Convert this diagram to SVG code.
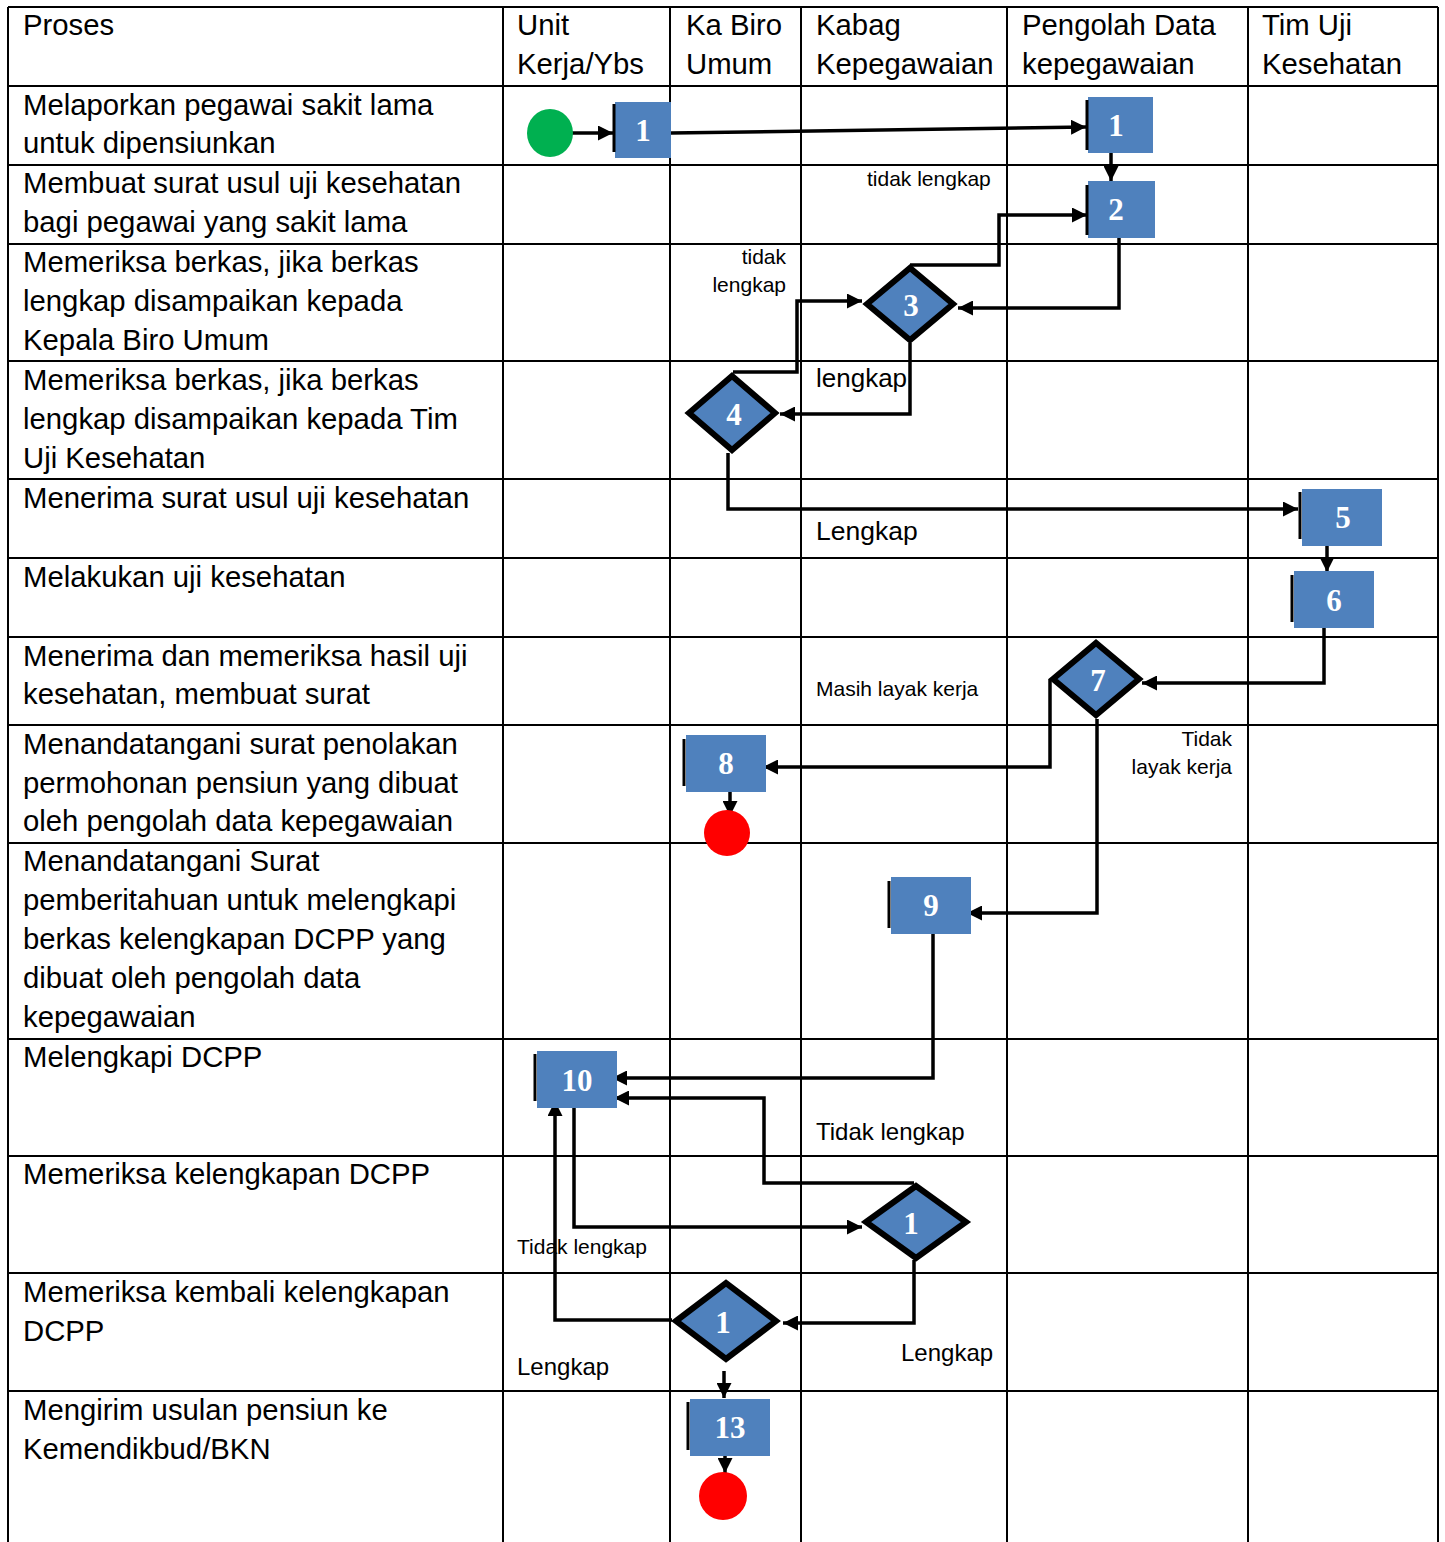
<svg xmlns="http://www.w3.org/2000/svg" width="1445" height="1542" viewBox="0 0 1445 1542">
<defs>
<style>
.g{stroke:#000;stroke-width:2;fill:none}
.t{font-family:"Liberation Sans",Arial,sans-serif;font-size:29.3px;fill:#000}
.s{font-family:"Liberation Sans",Arial,sans-serif;font-size:21px;fill:#000}
.m{font-family:"Liberation Sans",Arial,sans-serif;font-size:24px;fill:#000}
.n{fill:#4F81BD}
.bar{stroke:#000;stroke-width:3}
.d{fill:#4F81BD;stroke:#000;stroke-width:6;stroke-linejoin:miter}
.num{font-family:"Liberation Serif","Times New Roman",serif;font-weight:bold;font-size:31px;fill:#fff;text-anchor:middle}
.c{stroke:#000;stroke-width:3.5;fill:none;marker-end:url(#ah)}
</style>
<marker id="ah" markerUnits="userSpaceOnUse" markerWidth="15" markerHeight="15" refX="15" refY="7.5" orient="auto">
<path d="M0,0 L15,7.5 L0,15 z" fill="#000"/>
</marker>
</defs>
<rect width="1445" height="1542" fill="#fff"/>
<g id="grid">
<line class="g" x1="8" y1="7" x2="1438" y2="7"/>
<line class="g" x1="8" y1="86" x2="1438" y2="86"/>
<line class="g" x1="8" y1="165" x2="1438" y2="165"/>
<line class="g" x1="8" y1="244" x2="1438" y2="244"/>
<line class="g" x1="8" y1="361" x2="1438" y2="361"/>
<line class="g" x1="8" y1="479" x2="1438" y2="479"/>
<line class="g" x1="8" y1="558" x2="1438" y2="558"/>
<line class="g" x1="8" y1="637" x2="1438" y2="637"/>
<line class="g" x1="8" y1="725" x2="1438" y2="725"/>
<line class="g" x1="8" y1="843" x2="1438" y2="843"/>
<line class="g" x1="8" y1="1039" x2="1438" y2="1039"/>
<line class="g" x1="8" y1="1156" x2="1438" y2="1156"/>
<line class="g" x1="8" y1="1273" x2="1438" y2="1273"/>
<line class="g" x1="8" y1="1391" x2="1438" y2="1391"/>
<line class="g" x1="8" y1="7" x2="8" y2="1542"/>
<line class="g" x1="503" y1="7" x2="503" y2="1542"/>
<line class="g" x1="670" y1="7" x2="670" y2="1542"/>
<line class="g" x1="801" y1="7" x2="801" y2="1542"/>
<line class="g" x1="1007" y1="7" x2="1007" y2="1542"/>
<line class="g" x1="1248" y1="7" x2="1248" y2="1542"/>
<line class="g" x1="1438" y1="7" x2="1438" y2="1542"/>
</g>
<g id="header" class="t">
<text x="23" y="35">Proses</text>
<text x="517" y="35">Unit</text><text x="517" y="74">Kerja/Ybs</text>
<text x="686" y="35">Ka Biro</text><text x="686" y="74">Umum</text>
<text x="816" y="35">Kabag</text><text x="816" y="74">Kepegawaian</text>
<text x="1022" y="35">Pengolah Data</text><text x="1022" y="74">kepegawaian</text>
<text x="1262" y="35">Tim Uji</text><text x="1262" y="74">Kesehatan</text>
</g>
<g id="proses" class="t">
<text x="23" y="115">Melaporkan pegawai sakit lama</text>
<text x="23" y="153">untuk dipensiunkan</text>
<text x="23" y="193">Membuat surat usul uji kesehatan</text>
<text x="23" y="232">bagi pegawai yang sakit lama</text>
<text x="23" y="272">Memeriksa berkas, jika berkas</text>
<text x="23" y="311">lengkap disampaikan kepada</text>
<text x="23" y="350">Kepala Biro Umum</text>
<text x="23" y="390">Memeriksa berkas, jika berkas</text>
<text x="23" y="429">lengkap disampaikan kepada Tim</text>
<text x="23" y="468">Uji Kesehatan</text>
<text x="23" y="508">Menerima surat usul uji kesehatan</text>
<text x="23" y="587">Melakukan uji kesehatan</text>
<text x="23" y="666">Menerima dan memeriksa hasil uji</text>
<text x="23" y="704">kesehatan, membuat surat</text>
<text x="23" y="754">Menandatangani surat penolakan</text>
<text x="23" y="793">permohonan pensiun yang dibuat</text>
<text x="23" y="831">oleh pengolah data kepegawaian</text>
<text x="23" y="871">Menandatangani Surat</text>
<text x="23" y="910">pemberitahuan untuk melengkapi</text>
<text x="23" y="949">berkas kelengkapan DCPP yang</text>
<text x="23" y="988">dibuat oleh pengolah data</text>
<text x="23" y="1027">kepegawaian</text>
<text x="23" y="1067">Melengkapi DCPP</text>
<text x="23" y="1184">Memeriksa kelengkapan DCPP</text>
<text x="23" y="1302">Memeriksa kembali kelengkapan</text>
<text x="23" y="1341">DCPP</text>
<text x="23" y="1420">Mengirim usulan pensiun ke</text>
<text x="23" y="1459">Kemendikbud/BKN</text>
</g>
<g id="connectors">
<path class="c" d="M572,133 L613,133"/>
<path class="c" d="M671,133 L1086,127"/>
<path class="c" d="M1111,153 L1111,181"/>
<path class="c" d="M1119,234 L1119,308 L958,308"/>
<path class="c" d="M910,265 L999,265 L999,215 L1087,215"/>
<path class="c" d="M910,343 L910,414 L780,414"/>
<path class="c" d="M733,372 L797,372 L797,301 L862,301"/>
<path class="c" d="M728,453 L728,509 L1298,509"/>
<path class="c" d="M1327,545 L1327,572"/>
<path class="c" d="M1324,627 L1324,683 L1142,683"/>
<path class="c" d="M1050,679 L1050,767 L763,767"/>
<path class="c" d="M1097,719 L1097,913 L967,913"/>
<path class="c" d="M730,792 L730,816"/>
<path class="c" d="M933,933 L933,1078 L612,1078"/>
<path class="c" d="M914,1183 L764,1183 L764,1098 L614,1098"/>
<path class="c" d="M574,1107 L574,1227 L862,1227"/>
<path class="c" d="M914,1260 L914,1323 L783,1323"/>
<path class="c" d="M672,1320 L555,1320 L555,1101"/>
<path class="c" d="M724,1371 L724,1398"/>
<path class="c" d="M725,1450 L725,1473"/>
</g>
<g id="labels">
<text class="s" x="867" y="186">tidak lengkap</text>
<text class="s" x="786" y="264" text-anchor="end">tidak</text>
<text class="s" x="786" y="292" text-anchor="end">lengkap</text>
<text class="m" x="816" y="387" style="font-size:26px">lengkap</text>
<text class="m" x="816" y="540" style="font-size:26.5px">Lengkap</text>
<text class="s" x="816" y="696">Masih layak kerja</text>
<text class="s" x="1232" y="746" text-anchor="end">Tidak</text>
<text class="s" x="1232" y="774" text-anchor="end">layak kerja</text>
<text class="m" x="816" y="1140">Tidak lengkap</text>
<text class="s" x="517" y="1254">Tidak lengkap</text>
<text class="m" x="517" y="1375">Lengkap</text>
<text class="m" x="901" y="1361">Lengkap</text>
</g>
<g id="start"><ellipse cx="550" cy="133" rx="23" ry="24" fill="#00B050"/></g>
<g id="n1a"><rect class="n" x="615" y="102" width="56" height="56"/><line class="bar" x1="614" y1="104" x2="614" y2="152"/><text class="num" x="643" y="141">1</text></g>
<g id="n1b"><rect class="n" x="1088" y="97" width="65" height="56"/><line class="bar" x1="1087" y1="100" x2="1087" y2="150"/><text class="num" x="1116" y="136">1</text></g>
<g id="n2"><rect class="n" x="1088" y="181" width="67" height="57"/><line class="bar" x1="1087" y1="185" x2="1087" y2="235"/><text class="num" x="1116" y="220">2</text></g>
<g id="d3"><polygon class="d" points="867,304 910,268 953,304 910,340"/><text class="num" x="911" y="316">3</text></g>
<g id="d4"><polygon class="d" points="689,413 732,376 775,413 732,450"/><text class="num" x="734" y="425">4</text></g>
<g id="n5"><rect class="n" x="1302" y="489" width="80" height="57"/><line class="bar" x1="1300" y1="492" x2="1300" y2="539"/><text class="num" x="1343" y="528">5</text></g>
<g id="n6"><rect class="n" x="1294" y="571" width="80" height="57"/><line class="bar" x1="1292" y1="575" x2="1292" y2="622"/><text class="num" x="1334" y="611">6</text></g>
<g id="d7"><polygon class="d" points="1053,679 1096,643 1139,679 1096,715"/><text class="num" x="1098" y="691">7</text></g>
<g id="n8"><rect class="n" x="686" y="735" width="80" height="57"/><line class="bar" x1="684" y1="739" x2="684" y2="786"/><text class="num" x="726" y="774">8</text></g>
<g id="end1"><circle cx="727" cy="833" r="23" fill="#FF0000"/></g>
<g id="n9"><rect class="n" x="891" y="877" width="80" height="57"/><line class="bar" x1="889" y1="881" x2="889" y2="928"/><text class="num" x="931" y="916">9</text></g>
<g id="n10"><rect class="n" x="537" y="1051" width="80" height="57"/><line class="bar" x1="535" y1="1054" x2="535" y2="1101"/><text class="num" x="577" y="1091">10</text></g>
<g id="d11"><polygon class="d" points="866,1222 916,1186 966,1222 916,1258"/><text class="num" x="911" y="1234">1</text></g>
<g id="d12"><polygon class="d" points="676,1321 726,1283 776,1321 726,1359"/><text class="num" x="723" y="1333">1</text></g>
<g id="n13"><rect class="n" x="690" y="1399" width="80" height="57"/><line class="bar" x1="688" y1="1402" x2="688" y2="1450"/><text class="num" x="730" y="1438">13</text></g>
<g id="end2"><circle cx="723" cy="1496" r="24" fill="#FF0000"/></g>
</svg>
